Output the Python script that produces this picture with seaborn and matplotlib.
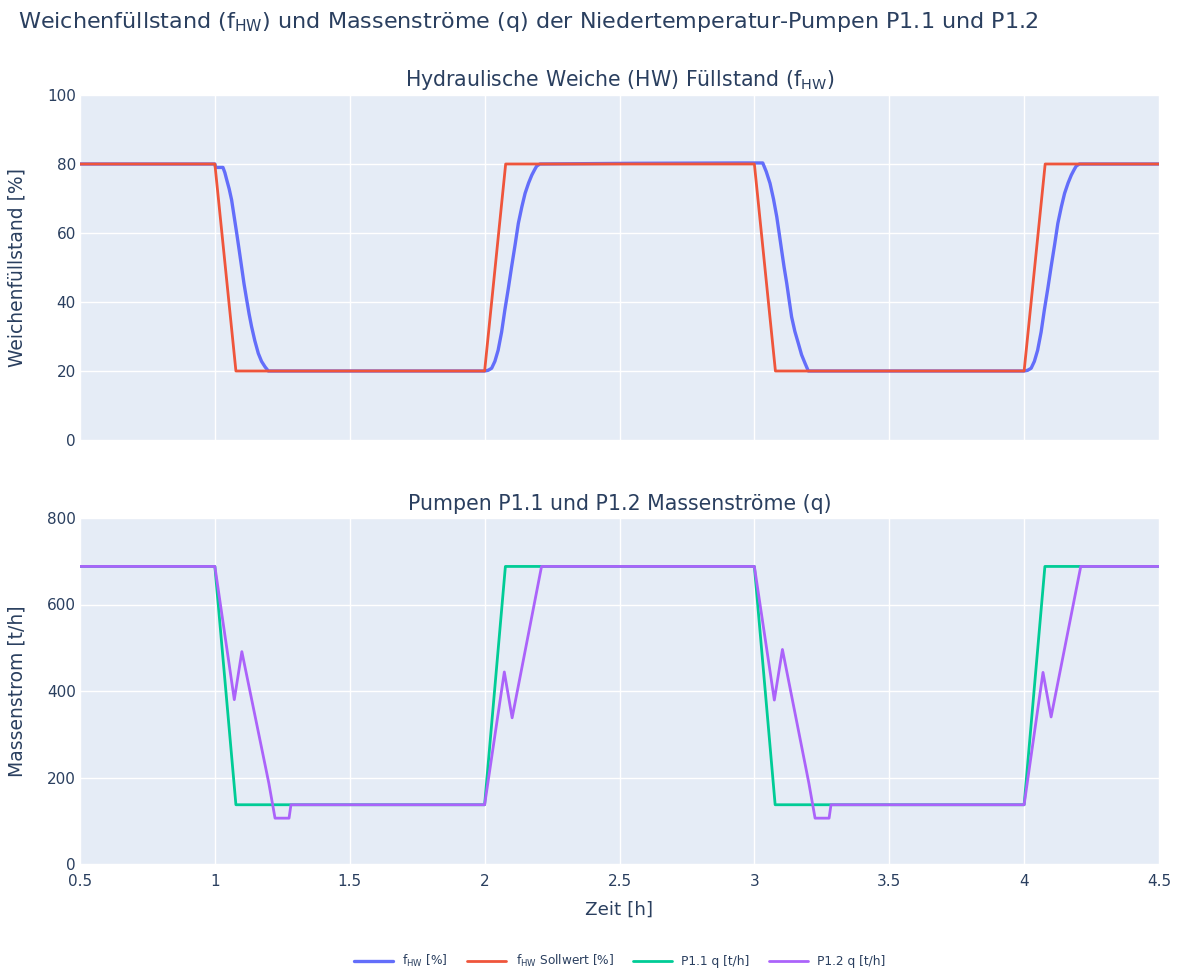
import pandas as pd
import seaborn as sns
import matplotlib.pyplot as plt

# Fuellstand der hydraulischen Weiche (Ist) [%]
t_fhw = [0.5, 1.0, 1.003, 1.03, 1.037, 1.044, 1.053, 1.062, 1.071, 1.081, 1.090, 1.099, 1.108, 1.118,
         1.127, 1.136, 1.148, 1.161, 1.173, 1.186, 1.198,
         2.0, 2.013, 2.026, 2.038, 2.05, 2.063, 2.075, 2.088, 2.10, 2.113, 2.125, 2.138, 2.15, 2.163,
         2.175, 2.185, 2.193, 2.205,
         2.55, 2.95, 3.031, 3.044, 3.058, 3.071, 3.083, 3.092, 3.101, 3.11, 3.12, 3.129, 3.138, 3.15,
         3.163, 3.175, 3.188, 3.2,
         4.0, 4.013, 4.026, 4.038, 4.05, 4.063, 4.075, 4.088, 4.10, 4.113, 4.125, 4.138, 4.15, 4.163,
         4.175, 4.185, 4.193, 4.205, 4.5]
fhw = [80.0, 80.0, 79.0, 79.0, 77.5, 75.4, 72.8, 69.6, 65.0, 59.9, 55.1, 50.2, 45.3, 40.6,
       36.5, 32.9, 28.8, 25.1, 22.8, 21.2, 20.0,
       20.0, 20.2, 20.8, 22.8, 26.0, 31.3, 37.7, 44.0, 50.2, 56.6, 62.8, 67.6, 71.5, 74.5,
       76.8, 78.3, 79.4, 80.0,
       80.2, 80.3, 80.3, 77.8, 74.4, 69.8, 64.7, 59.9, 55.0, 50.2, 45.4, 40.5, 35.7, 31.5,
       28.0, 24.7, 22.2, 20.0,
       20.0, 20.2, 20.8, 22.8, 26.0, 31.3, 37.7, 44.0, 50.2, 56.6, 62.8, 67.6, 71.5, 74.5,
       76.8, 78.3, 79.4, 80.0, 80.0]

# Sollwert [%]
t_soll = [0.5, 1.0, 1.078, 2.0, 2.078, 3.0, 3.078, 4.0, 4.078, 4.5]
fhw_soll = [80, 80, 20, 20, 80, 80, 20, 20, 80, 80]

# Pumpe P1.1 [t/h]
t_p11 = [0.5, 1.0, 1.078, 2.0, 2.077, 3.0, 3.077, 4.0, 4.077, 4.5]
q_p11 = [688, 688, 137, 137, 688, 688, 137, 137, 688, 688]

# Pumpe P1.2 [t/h]
t_p12 = [0.5, 1.0, 1.072, 1.10, 1.20, 1.223, 1.275, 1.282, 2.0, 2.073, 2.102, 2.211,
         3.0, 3.074, 3.104, 3.202, 3.225, 3.277, 3.284, 4.0, 4.07, 4.10, 4.21, 4.5]
q_p12 = [688, 688, 380, 491, 187, 106, 106, 137, 137, 444, 338, 688,
         688, 379, 496, 187, 106, 106, 137, 137, 443, 340, 688, 688]

sns.set_style('darkgrid', {'axes.facecolor': '#E5ECF6', 'grid.color': 'white'})
plt.rcParams['font.family'] = ['DejaVu Sans']
txt = '#2a3f5f'

fig = plt.figure(figsize=(11.78, 9.69), dpi=100)
ax1 = fig.add_axes([80/1178, 1-440/969, 1079/1178, 345/969])
ax2 = fig.add_axes([80/1178, 1-864/969, 1079/1178, 346/969], sharex=ax1)

sns.lineplot(x=t_fhw, y=fhw, ax=ax1, color='#636efa', lw=2.4, marker='s', markersize=2.5,
             markeredgewidth=0, label='f$_\\mathregular{HW}$ [%]')
sns.lineplot(x=t_soll, y=fhw_soll, ax=ax1, color='#EF553B', lw=2, label='f$_\\mathregular{HW}$ Sollwert [%]')
sns.lineplot(x=t_p11, y=q_p11, ax=ax2, color='#00cc96', lw=2, label='P1.1 q [t/h]')
sns.lineplot(x=t_p12, y=q_p12, ax=ax2, color='#ab63fa', lw=2, label='P1.2 q [t/h]')

ax1.set_xlim(0.5, 4.5)
ax1.set_ylim(0, 100)
ax2.set_ylim(0, 800)
ax1.set_yticks([0, 20, 40, 60, 80, 100])
ax2.set_yticks([0, 200, 400, 600, 800])
ax2.set_xticks([0.5, 1, 1.5, 2, 2.5, 3, 3.5, 4, 4.5])
ax2.set_xticklabels(['0.5', '1', '1.5', '2', '2.5', '3', '3.5', '4', '4.5'])

for ax in (ax1, ax2):
    ax.tick_params(axis='y', length=0, labelsize=11, labelcolor=txt, pad=3)
    ax.tick_params(axis='x', length=0, labelsize=11, labelcolor=txt, pad=7)
    ax.grid(True, color='white', lw=1)
    for s in ax.spines.values():
        s.set_visible(False)
    ax.get_legend().remove()
ax1.tick_params(labelbottom=False)

ax1.set_ylabel('Weichenfüllstand [%]', fontsize=13.5, color=txt)
ax2.set_ylabel('Massenstrom [t/h]', fontsize=13.5, color=txt)
ax1.yaxis.set_label_coords(-0.05, 0.5)
ax2.yaxis.set_label_coords(-0.05, 0.5)
ax2.set_xlabel('Zeit [h]', fontsize=13.2, color=txt, labelpad=9)
ax1.set_xlabel('')

fig.text(18/1178, 1-22/969, 'Weichenfüllstand (f$_\\mathregular{HW}$) und Massenströme (q) der Niedertemperatur-Pumpen P1.1 und P1.2',
         fontsize=16, color=txt, ha='left', va='center')
fig.text(619.5/1178, 1-80/969, 'Hydraulische Weiche (HW) Füllstand (f$_\\mathregular{HW}$)',
         fontsize=14.8, color=txt, ha='center', va='center')
fig.text(619.5/1178, 1-504/969, 'Pumpen P1.1 und P1.2 Massenströme (q)',
         fontsize=14.8, color=txt, ha='center', va='center')

h1, l1 = ax1.get_legend_handles_labels()
h2, l2 = ax2.get_legend_handles_labels()
for h in h1 + h2:
    h.set_marker('')
fig.legend(h1 + h2, l1 + l2, loc='center', bbox_to_anchor=(620/1178, 1-961/969), ncol=4,
           frameon=False, fontsize=8.7, labelcolor=txt, handlelength=3.2, columnspacing=1.6)

fig.savefig('out.png', dpi=100)
